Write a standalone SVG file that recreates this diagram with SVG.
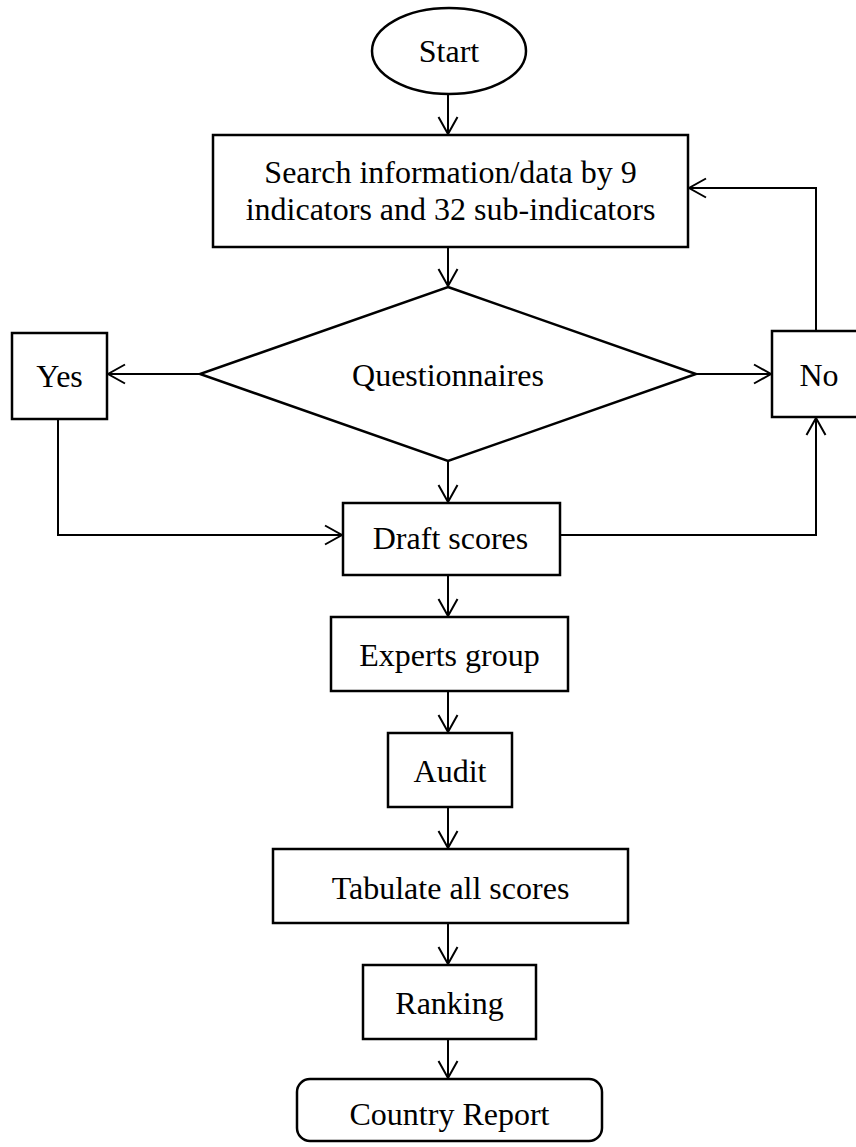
<svg xmlns="http://www.w3.org/2000/svg" width="856" height="1147" viewBox="0 0 856 1147">
  <style>
    .box { fill: #ffffff; stroke: #000000; stroke-width: 2.5; }
    .lbl { font-family: "Liberation Serif", "Times New Roman", serif; font-size: 32px; fill: #000000; text-anchor: middle; }
    .wire { fill: none; stroke: #000000; stroke-width: 2; }
  </style>
  <defs>
    <marker id="openArrow" viewBox="0 0 20 22" refX="18" refY="11" markerWidth="20" markerHeight="22" markerUnits="userSpaceOnUse" orient="auto">
      <path d="M1,1.5 L18,11 L1,20.5" fill="none" stroke="#000000" stroke-width="2"/>
    </marker>
  </defs>

  <rect width="856" height="1147" fill="#ffffff"/>

  <!-- connectors -->
  <g id="connectors" class="wire">
    <line x1="448" y1="94" x2="448" y2="134" marker-end="url(#openArrow)"/>
    <line x1="448" y1="247" x2="448" y2="286" marker-end="url(#openArrow)"/>
    <line x1="200" y1="374" x2="108" y2="374" marker-end="url(#openArrow)"/>
    <line x1="696" y1="374" x2="771" y2="374" marker-end="url(#openArrow)"/>
    <polyline points="816,331 816,188 689,188" marker-end="url(#openArrow)"/>
    <line x1="448" y1="461" x2="448" y2="502" marker-end="url(#openArrow)"/>
    <polyline points="58,419 58,535 342,535" marker-end="url(#openArrow)"/>
    <polyline points="560,535 816,535 816,418" marker-end="url(#openArrow)"/>
    <line x1="448" y1="575" x2="448" y2="616" marker-end="url(#openArrow)"/>
    <line x1="448" y1="691" x2="448" y2="732" marker-end="url(#openArrow)"/>
    <line x1="448" y1="807" x2="448" y2="848" marker-end="url(#openArrow)"/>
    <line x1="448" y1="923" x2="448" y2="964" marker-end="url(#openArrow)"/>
    <line x1="448" y1="1039" x2="448" y2="1078" marker-end="url(#openArrow)"/>
  </g>

  <!-- nodes -->
  <g id="start">
    <ellipse class="box" cx="449" cy="51" rx="77" ry="43"/>
    <text class="lbl" x="449" y="62">Start</text>
  </g>
  <g id="search">
    <rect class="box" x="213" y="135" width="475" height="112"/>
    <text class="lbl" x="450.5" y="183">Search information/data by 9</text>
    <text class="lbl" x="450.5" y="220">indicators and 32 sub-indicators</text>
  </g>
  <g id="questionnaires">
    <polygon class="box" points="448,287 696,374 448,461 200,374"/>
    <text class="lbl" x="448" y="386">Questionnaires</text>
  </g>
  <g id="yes">
    <rect class="box" x="12" y="333" width="95" height="86"/>
    <text class="lbl" x="59.5" y="387">Yes</text>
  </g>
  <g id="no">
    <rect class="box" x="772" y="331" width="94" height="86"/>
    <text class="lbl" x="819" y="386">No</text>
  </g>
  <g id="draft-scores">
    <rect class="box" x="343" y="503" width="217" height="72"/>
    <text class="lbl" x="450.5" y="549">Draft scores</text>
  </g>
  <g id="experts-group">
    <rect class="box" x="331" y="617" width="237" height="74"/>
    <text class="lbl" x="449.5" y="666">Experts group</text>
  </g>
  <g id="audit">
    <rect class="box" x="388" y="733" width="124" height="74"/>
    <text class="lbl" x="450" y="782">Audit</text>
  </g>
  <g id="tabulate">
    <rect class="box" x="273" y="849" width="355" height="74"/>
    <text class="lbl" x="450.5" y="899">Tabulate all scores</text>
  </g>
  <g id="ranking">
    <rect class="box" x="363" y="965" width="173" height="74"/>
    <text class="lbl" x="449.5" y="1014">Ranking</text>
  </g>
  <g id="country-report">
    <rect class="box" x="297" y="1079" width="305" height="62" rx="13" ry="13"/>
    <text class="lbl" x="449.5" y="1125">Country Report</text>
  </g>
</svg>
